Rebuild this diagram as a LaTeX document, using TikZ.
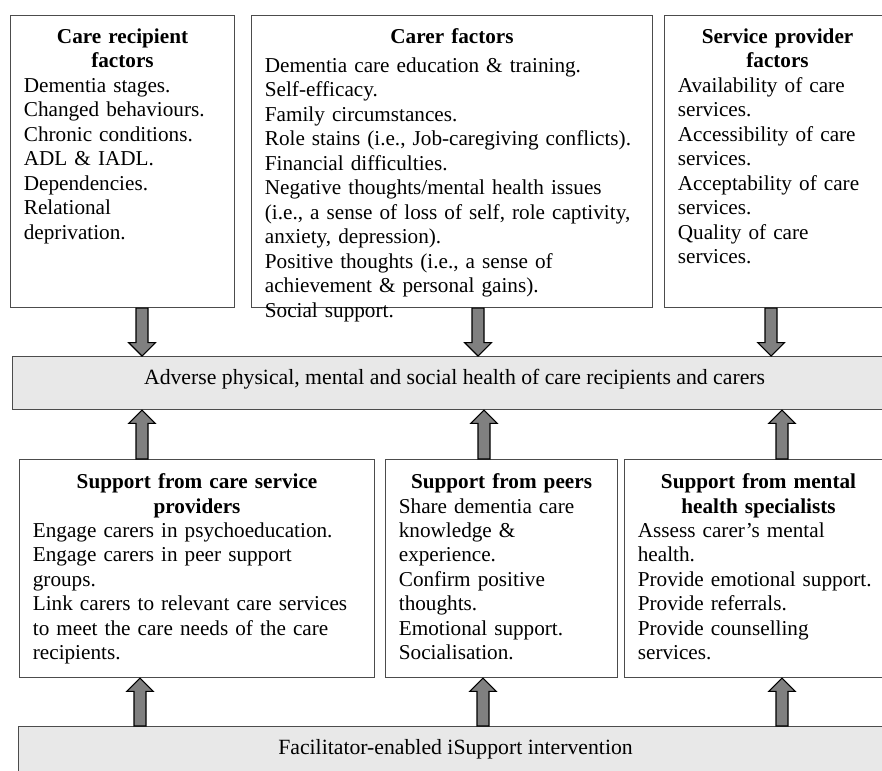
\documentclass[tikz,border=0pt]{standalone}
\usepackage{fontspec}
\setmainfont{Liberation Serif}
\usetikzlibrary{calc}

\tikzset{
  factorbox/.style={draw=black!70, line width=0.8pt, fill=white, anchor=north west,
    align=left, inner xsep=10pt, inner ysep=0pt,
    font=\fontsize{15.9}{18.35}\selectfont},
  topbox/.style={factorbox, text height=20.8pt, text depth=198.2pt},
  botbox/.style={factorbox, text height=21.75pt, text depth=141.75pt},
  band/.style={draw=black!70, line width=0.8pt, fill=gray!18, anchor=north west,
    inner sep=0pt, font=\fontsize{16.3}{18.8}\selectfont},
  blockarr/.style={draw=black, line width=0.8pt, fill=gray, line join=miter}
}
\newcommand{\boxhead}[1]{\makebox[\linewidth]{\bfseries #1}}
\newcommand{\blockarrow}[2]{%
  \draw[blockarr] let \p1=#1, \p2=#2, \n1={sign(\y2-\y1)} in
    ({\x1-4.5pt},{\y2-\n1*10pt}) -- ({\x1-10pt},{\y2-\n1*10pt}) -- (\x1,\y2)
    -- ({\x1+10pt},{\y2-\n1*10pt}) -- ({\x1+4.5pt},{\y2-\n1*10pt}) -- ({\x1+4.5pt},\y1)
    -- ({\x1-4.5pt},\y1) -- cycle;}

\begin{document}
\begin{tikzpicture}[x=0.75pt, y=-0.75pt]
\useasboundingbox (0,0) rectangle (882,771);
\clip (0,0) rectangle (882,771);

% factors
\node[topbox, text width=148pt] (recip) at (10,15) {\boxhead{Care recipient}\\ \boxhead{factors}\\
  Dementia stages.\\ Changed behaviours.\\ Chronic conditions.\\ ADL \& IADL.\\
  Dependencies.\\ Relational\\ deprivation.};
\node[topbox, text width=280.75pt] (carer) at (251,15) {\boxhead{Carer factors}\\[3.5pt]
  Dementia care education \& training.\\ Self-efficacy.\\ Family circumstances.\\
  Role stains (i.e., Job-caregiving conflicts).\\ Financial difficulties.\\
  Negative thoughts/mental health issues\\ (i.e., a sense of loss of self, role captivity,\\
  anxiety, depression).\\ Positive thoughts (i.e., a sense of\\
  achievement \& personal gains).\\ Social support.};
\node[topbox, text width=149.5pt] (service) at (664,15) {\boxhead{Service provider}\\ \boxhead{factors}\\
  Availability of care\\ services.\\ Accessibility of care\\ services.\\
  Acceptability of care\\ services.\\ Quality of care\\ services.};

\node[band, minimum width=663pt, minimum height=39.75pt, text height=11pt, text depth=8.3pt] (health) at (12,356)
  {Adverse physical, mental and social health of care recipients and carers};

% support
\node[botbox, text width=246.25pt] (provsup) at (19,459) {\boxhead{Support from care service}\\ \boxhead{providers}\\
  Engage carers in psychoeducation.\\ Engage carers in peer support\\ groups.\\
  Link carers to relevant care services\\ to meet the care needs of the care\\ recipients.};
\node[botbox, text width=154pt] (peersup) at (385,459) {\boxhead{Support from peers}\\
  Share dementia care\\ knowledge \&\\ experience.\\ Confirm positive\\ thoughts.\\
  Emotional support.\\ Socialisation.};
\node[botbox, text width=181pt] (mentsup) at (624,459) {\boxhead{Support from mental}\\ \boxhead{health specialists}\\
  Assess carer's mental\\ health.\\ Provide emotional support.\\ Provide referrals.\\
  Provide counselling\\ services.};

\node[band, minimum width=655.5pt, minimum height=34.5pt] (isupport) at (18,726)
  {Facilitator-enabled iSupport intervention};

\coordinate (a1) at (142,0);
\coordinate (a2) at (478,0);
\coordinate (a3) at (771,0);
\coordinate (b1) at (142,0);
\coordinate (b2) at (484,0);
\coordinate (b3) at (782,0);
\coordinate (c1) at (140,0);
\coordinate (c2) at (483,0);
\coordinate (c3) at (782,0);

\blockarrow{(recip.south -| a1)}{(health.north -| a1)}
\blockarrow{(carer.south -| a2)}{(health.north -| a2)}
\blockarrow{(service.south -| a3)}{(health.north -| a3)}

\blockarrow{(provsup.north -| b1)}{(health.south -| b1)}
\blockarrow{(peersup.north -| b2)}{(health.south -| b2)}
\blockarrow{(mentsup.north -| b3)}{(health.south -| b3)}

\blockarrow{(isupport.north -| c1)}{(provsup.south -| c1)}
\blockarrow{(isupport.north -| c2)}{(peersup.south -| c2)}
\blockarrow{(isupport.north -| c3)}{(mentsup.south -| c3)}

\end{tikzpicture}
\end{document}
